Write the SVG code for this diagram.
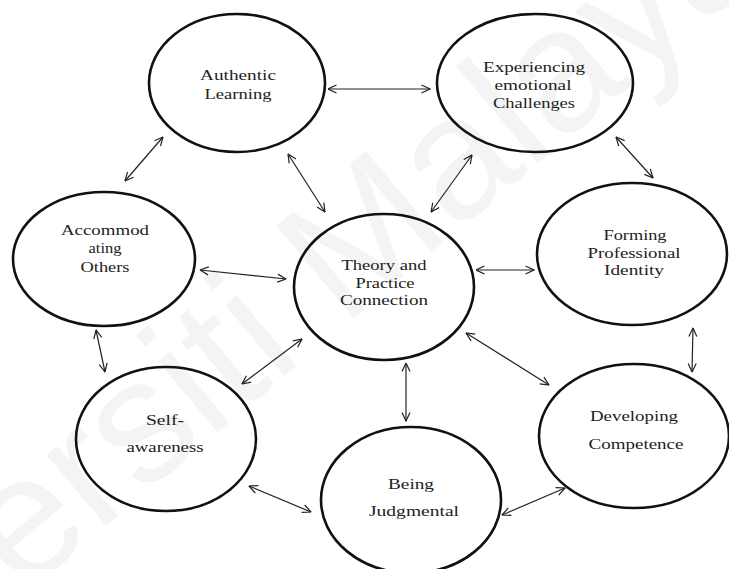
<svg xmlns="http://www.w3.org/2000/svg" width="729" height="569" viewBox="0 0 729 569">
  <style>
    .node ellipse { fill: none; stroke: #111; stroke-width: 2.6; }
    .node text { font-family: "Liberation Serif", "Times New Roman", serif; font-size: 14px; fill: #222; text-anchor: middle; }
    .link { fill: none; stroke: #222; stroke-width: 1.2; marker-start: url(#head); marker-end: url(#head); }
    .mark { font-family: "Liberation Sans", Arial, sans-serif; font-size: 175px; fill: #000; fill-opacity: 0.045; }
  </style>
  <defs>
    <marker id="head" viewBox="0 0 10 10" refX="9.5" refY="5" markerWidth="10" markerHeight="10" markerUnits="userSpaceOnUse" orient="auto-start-reverse">
      <path d="M1,1 L9.5,5 L1,9" fill="none" stroke="#222" stroke-width="1.2"/>
    </marker>
  </defs>

  <rect width="729" height="569" fill="#fff"/>

  <!-- faint background watermark -->
  <text class="mark" x="-246" y="821" transform="rotate(-40 -246 821)">Universiti Malaya</text>

  <!-- connectors -->
  <g id="connectors">
    <line class="link" x1="328" y1="89" x2="430" y2="89"/>
    <line class="link" x1="163" y1="137" x2="125" y2="181"/>
    <line class="link" x1="288" y1="154" x2="325" y2="212"/>
    <line class="link" x1="472" y1="155" x2="431" y2="212"/>
    <line class="link" x1="616" y1="137" x2="653" y2="178"/>
    <line class="link" x1="200" y1="270" x2="286" y2="279"/>
    <line class="link" x1="476" y1="270" x2="534" y2="270"/>
    <line class="link" x1="96" y1="330" x2="105" y2="372"/>
    <line class="link" x1="302" y1="339" x2="242" y2="384"/>
    <line class="link" x1="466" y1="333" x2="549" y2="385"/>
    <line class="link" x1="406" y1="363" x2="406" y2="421"/>
    <line class="link" x1="693" y1="328" x2="692" y2="372"/>
    <line class="link" x1="249" y1="486" x2="311" y2="512"/>
    <line class="link" x1="502" y1="515" x2="565" y2="488"/>
  </g>

  <g id="authentic-learning" class="node">
    <ellipse cx="237" cy="83" rx="88" ry="69"/>
    <text x="238" y="80" textLength="76" lengthAdjust="spacingAndGlyphs">Authentic</text>
    <text x="238" y="99" textLength="67" lengthAdjust="spacingAndGlyphs">Learning</text>
  </g>

  <g id="experiencing-emotional-challenges" class="node">
    <ellipse cx="535" cy="83" rx="98" ry="69"/>
    <text x="534" y="72" textLength="102" lengthAdjust="spacingAndGlyphs">Experiencing</text>
    <text x="533" y="90" textLength="77" lengthAdjust="spacingAndGlyphs">emotional</text>
    <text x="534" y="108" textLength="82" lengthAdjust="spacingAndGlyphs">Challenges</text>
  </g>

  <g id="accommodating-others" class="node">
    <ellipse cx="104" cy="259" rx="91" ry="67"/>
    <text x="105" y="235" textLength="88" lengthAdjust="spacingAndGlyphs">Accommod</text>
    <text x="105" y="253" textLength="33" lengthAdjust="spacingAndGlyphs">ating</text>
    <text x="105" y="272" textLength="49" lengthAdjust="spacingAndGlyphs">Others</text>
  </g>

  <g id="theory-practice-connection" class="node">
    <ellipse cx="384" cy="287" rx="90" ry="73"/>
    <text x="384" y="270" textLength="85" lengthAdjust="spacingAndGlyphs">Theory and</text>
    <text x="385" y="288" textLength="59" lengthAdjust="spacingAndGlyphs">Practice</text>
    <text x="384" y="305" textLength="88" lengthAdjust="spacingAndGlyphs">Connection</text>
  </g>

  <g id="forming-professional-identity" class="node">
    <ellipse cx="632" cy="254" rx="95" ry="71"/>
    <text x="635" y="240" textLength="63" lengthAdjust="spacingAndGlyphs">Forming</text>
    <text x="634" y="258" textLength="93" lengthAdjust="spacingAndGlyphs">Professional</text>
    <text x="634" y="275" textLength="60" lengthAdjust="spacingAndGlyphs">Identity</text>
  </g>

  <g id="self-awareness" class="node">
    <ellipse cx="166" cy="439" rx="90" ry="72"/>
    <text x="165" y="425" textLength="38" lengthAdjust="spacingAndGlyphs">Self-</text>
    <text x="165" y="452" textLength="77" lengthAdjust="spacingAndGlyphs">awareness</text>
  </g>

  <g id="being-judgmental" class="node">
    <ellipse cx="411" cy="500" rx="90" ry="73"/>
    <text x="411" y="489" textLength="46" lengthAdjust="spacingAndGlyphs">Being</text>
    <text x="414" y="516" textLength="90" lengthAdjust="spacingAndGlyphs">Judgmental</text>
  </g>

  <g id="developing-competence" class="node">
    <ellipse cx="634" cy="436" rx="95" ry="72"/>
    <text x="634" y="421" textLength="88" lengthAdjust="spacingAndGlyphs">Developing</text>
    <text x="636" y="449" textLength="95" lengthAdjust="spacingAndGlyphs">Competence</text>
  </g>
</svg>
